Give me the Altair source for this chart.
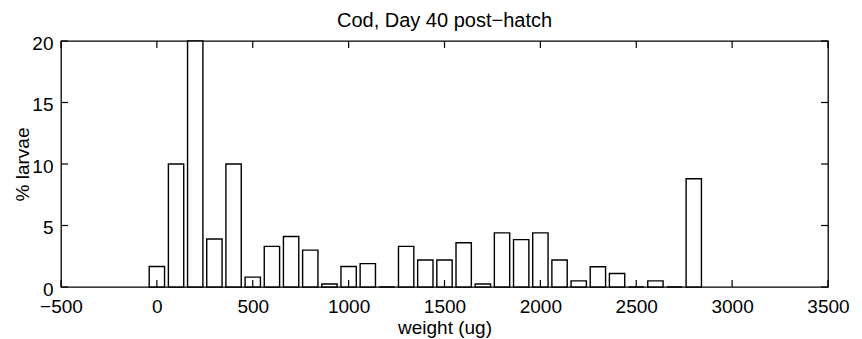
import altair as alt
import pandas as pd

# data
weights = [0, 100, 200, 300, 400, 500, 600, 700, 800, 900, 1000, 1100, 1200, 1300,
           1400, 1500, 1600, 1700, 1800, 1900, 2000, 2100, 2200, 2300, 2400, 2500,
           2600, 2700, 2800]
percent = [1.67, 10.0, 20.0, 3.9, 10.0, 0.8, 3.3, 4.1, 3.0, 0.25, 1.67, 1.9, 0.0, 3.3,
           2.2, 2.2, 3.6, 0.25, 4.4, 3.85, 4.4, 2.2, 0.5, 1.65, 1.1, 0.0,
           0.5, 0.0, 8.8]
x_ticks = [-500, 0, 500, 1000, 1500, 2000, 2500, 3000, 3500]
y_ticks = [0, 5, 10, 15, 20]
bar_width = 80
title_text = ["Cod, Day 40 post\u2212hatch"]

W, H = 767, 246
TICK = 7
FONT = "Liberation Sans"

bars_df = pd.DataFrame({"w": weights, "p": percent})
xt_df = pd.DataFrame({"w": x_ticks})
yt_df = pd.DataFrame({"p": y_ticks})
title_df = pd.DataFrame({"t": title_text})

xscale = alt.Scale(domain=[-500, 3500], nice=False, zero=False)
yscale = alt.Scale(domain=[0, 20], nice=False)

xaxis = alt.Axis(values=x_ticks, ticks=False, domain=False, grid=False, format="d",
                 labelFont=FONT, labelFontSize=19, labelColor="black",
                 labelBaseline="alphabetic", labelPadding=25,
                 title="weight (ug)", titleFont=FONT,
                 titleFontSize=19, titleFontWeight="normal", titleColor="black",
                 titleBaseline="alphabetic", titleY=46, titleX=W / 2,
                 titleAlign="center", labelFlush=False)
yaxis = alt.Axis(values=y_ticks, ticks=False, domain=False, grid=False, format="d",
                 labelFont=FONT, labelFontSize=19, labelColor="black",
                 labelBaseline="alphabetic", labelOffset=8, labelPadding=8,
                 title="% larvae", titleFont=FONT,
                 titleFontSize=19, titleFontWeight="normal", titleColor="black",
                 titleBaseline="alphabetic", titleAngle=270, titleX=-33,
                 titleY=H / 2, titleAlign="center", labelFlush=False)

bars = alt.Chart(bars_df).transform_calculate(
    x0=f"datum.w - {bar_width/2}", x1=f"datum.w + {bar_width/2}"
).mark_bar(fill="white", stroke="black", strokeWidth=1.4).encode(
    x=alt.X("x0:Q", scale=xscale, axis=xaxis),
    x2="x1:Q",
    y=alt.Y("p:Q", scale=yscale, axis=yaxis),
    y2=alt.datum(0),
)

tick_style = dict(color="black", strokeWidth=1.2)
xt_bottom = alt.Chart(xt_df).mark_rule(**tick_style).encode(
    x=alt.X("w:Q", scale=xscale, axis=xaxis),
    y=alt.value(H), y2=alt.value(H - TICK))
xt_top = alt.Chart(xt_df).mark_rule(**tick_style).encode(
    x=alt.X("w:Q", scale=xscale, axis=xaxis),
    y=alt.value(0), y2=alt.value(TICK))
yt_left = alt.Chart(yt_df).mark_rule(**tick_style).encode(
    y=alt.Y("p:Q", scale=yscale, axis=yaxis),
    x=alt.value(0), x2=alt.value(TICK))
yt_right = alt.Chart(yt_df).mark_rule(**tick_style).encode(
    y=alt.Y("p:Q", scale=yscale, axis=yaxis),
    x=alt.value(W), x2=alt.value(W - TICK))

title = alt.Chart(title_df).mark_text(
    font=FONT, fontSize=20, color="black", align="center", baseline="alphabetic"
).encode(text="t:N", x=alt.value(W / 2), y=alt.value(-14))

chart = alt.layer(bars, xt_bottom, xt_top, yt_left, yt_right, title).properties(
    width=W, height=H,
    background="white",
    autosize=alt.AutoSizeParams(type="none"),
    padding={"left": 53, "top": 33, "right": 26, "bottom": 52},
).configure_view(stroke="black", strokeWidth=1.3)

chart.save("out.html", embed_options={"renderer": "svg", "actions": False})
